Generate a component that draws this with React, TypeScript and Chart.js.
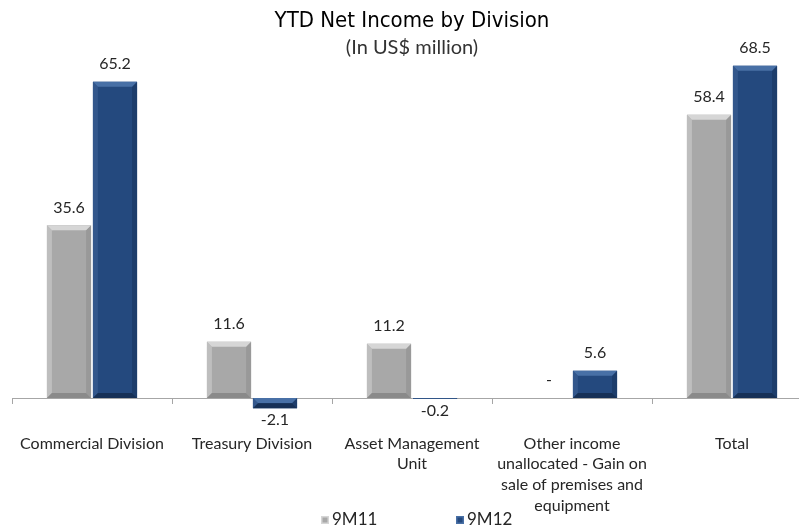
import React, { useEffect, useRef } from "react";
import { Chart, registerables } from "chart.js";

Chart.register(...registerables);

const titleText = "YTD Net Income by Division";
const subtitleText = "(In US$ million)";
const categories: (string | string[])[] = [
  "Commercial Division",
  "Treasury Division",
  ["Asset Management", "Unit"],
  ["Other income", "unallocated - Gain on", "sale of premises and", "equipment"],
  "Total",
];
const seriesNames = ["9M11", "9M12"];
const values9M11 = [35.6, 11.6, 11.2, 0, 58.4];
const values9M12 = [65.2, -2.1, -0.2, 5.6, 68.5];
const yMin = -20;
const yMax = 69.0;

const bodyColors = ["#A8A8A8", "#24497E"];
const bevelColors = [
  { top: "#D6D6D6", left: "#BEBEBE", right: "#999999", bottom: "#8A8A8A" },
  { top: "#4870A6", left: "#33578C", right: "#1D3D6B", bottom: "#163056" },
];

const FONT = "Lato, 'Open Sans', sans-serif";
const TITLE_FONT = "'Liberation Sans Narrow', 'DejaVu Sans Condensed', Lato, sans-serif";

function poly(ctx: CanvasRenderingContext2D, pts: number[][], color: string) {
  ctx.beginPath();
  ctx.moveTo(pts[0][0], pts[0][1]);
  for (let i = 1; i < pts.length; i++) ctx.lineTo(pts[i][0], pts[i][1]);
  ctx.closePath();
  ctx.fillStyle = color;
  ctx.fill();
}

const bevelPlugin = {
  id: "bevel",
  afterDatasetsDraw(chart: any) {
    const ctx: CanvasRenderingContext2D = chart.ctx;
    ctx.save();
    chart.data.datasets.forEach((_ds: any, di: number) => {
      const meta = chart.getDatasetMeta(di);
      const pal = bevelColors[di];
      meta.data.forEach((el: any) => {
        const { x, y, base, width } = el.getProps(["x", "y", "base", "width"], true);
        const l = x - width / 2;
        const r = x + width / 2;
        const t = Math.min(y, base);
        const b = Math.max(y, base);
        const h = b - t;
        if (h < 0.5) return;
        const d = Math.min(5, h / 2, width / 2);
        poly(ctx, [[l, t], [l + d, t + d], [l + d, b - d], [l, b]], pal.left);
        poly(ctx, [[r, t], [r, b], [r - d, b - d], [r - d, t + d]], pal.right);
        poly(ctx, [[l, b], [l + d, b - d], [r - d, b - d], [r, b]], pal.bottom);
        poly(ctx, [[l, t], [r, t], [r - d, t + d], [l + d, t + d]], pal.top);
      });
    });
    ctx.restore();
  },
};

const dataLabelPlugin = {
  id: "dataLabels",
  afterDatasetsDraw(chart: any) {
    const ctx: CanvasRenderingContext2D = chart.ctx;
    ctx.save();
    ctx.font = `16px ${FONT}`;
    ctx.fillStyle = "#262626";
    ctx.textAlign = "center";
    ctx.textBaseline = "middle";
    chart.data.datasets.forEach((ds: any, di: number) => {
      const meta = chart.getDatasetMeta(di);
      meta.data.forEach((el: any, i: number) => {
        const v = ds.data[i];
        const { x, y } = el.getProps(["x", "y"], true);
        const text = v === 0 ? "-" : v.toFixed(1);
        const ly = v < 0 ? y + 12 : y - 18;
        ctx.fillText(text, x, ly);
      });
    });
    ctx.restore();
  },
};

const legendPlugin = {
  id: "customLegend",
  afterDraw(chart: any) {
    const ctx: CanvasRenderingContext2D = chart.ctx;
    const xs = [321, 456];
    const cy = 520;
    ctx.save();
    ctx.font = `17px ${FONT}`;
    ctx.textAlign = "left";
    ctx.textBaseline = "middle";
    chart.data.datasets.forEach((ds: any, di: number) => {
      const x = xs[di];
      ctx.fillStyle = bevelColors[di].top;
      ctx.fillRect(x, cy - 4, 8, 8);
      ctx.fillStyle = ds.backgroundColor;
      ctx.fillRect(x + 1.5, cy - 2.5, 5, 5);
      ctx.fillStyle = "#262626";
      ctx.fillText(ds.label, x + 11, cy);
    });
    ctx.restore();
  },
};

export default function App() {
  const ref = useRef<HTMLCanvasElement | null>(null);

  useEffect(() => {
    if (!ref.current) return;
    const chart = new Chart(ref.current, {
      type: "bar",
      data: {
        labels: categories,
        datasets: [
          {
            label: seriesNames[0],
            data: values9M11,
            backgroundColor: bodyColors[0],
            borderWidth: 0,
            categoryPercentage: 0.575,
            barPercentage: 0.96,
          },
          {
            label: seriesNames[1],
            data: values9M12,
            backgroundColor: bodyColors[1],
            borderWidth: 0,
            categoryPercentage: 0.575,
            barPercentage: 0.96,
          },
        ],
      },
      options: {
        responsive: false,
        animation: false,
        layout: { padding: { left: 12, right: 12, top: 0, bottom: 34 } },
        plugins: {
          legend: { display: false },
          tooltip: { enabled: false },
          title: {
            display: true,
            text: titleText,
            color: "#000000",
            font: { family: TITLE_FONT, size: 22, weight: "normal" },
            padding: { top: 8, bottom: 0 },
          },
          subtitle: {
            display: true,
            text: subtitleText,
            color: "#333333",
            font: { family: FONT, size: 20, weight: "normal" },
            padding: { top: 1, bottom: 4 },
          },
        },
        scales: {
          x: {
            position: { y: 0 } as any,
            afterFit: (s: any) => {
              s.paddingLeft = 0;
              s.paddingRight = 0;
            },
            grid: {
              display: true,
              drawOnChartArea: false,
              drawTicks: true,
              tickLength: 5,
              color: "#A6A6A6",
              offset: true,
            },
            border: { display: true, color: "#A6A6A6", width: 1 },
            ticks: {
              color: "#262626",
              font: { family: FONT, size: 16, lineHeight: 1.3 },
              padding: 30,
              autoSkip: false,
              maxRotation: 0,
              minRotation: 0,
            },
          },
          y: {
            display: false,
            min: yMin,
            max: yMax,
          },
        },
      },
      plugins: [bevelPlugin, dataLabelPlugin, legendPlugin],
    });
    return () => chart.destroy();
  }, []);

  return (
    <div
      style={{
        position: "absolute",
        left: 0,
        top: 0,
        width: 799,
        height: 529,
        overflow: "hidden",
        background: "#ffffff",
      }}
    >
      <canvas ref={ref} width={824} height={529} style={{ width: 824, height: 529, display: "block" }} />
    </div>
  );
}
